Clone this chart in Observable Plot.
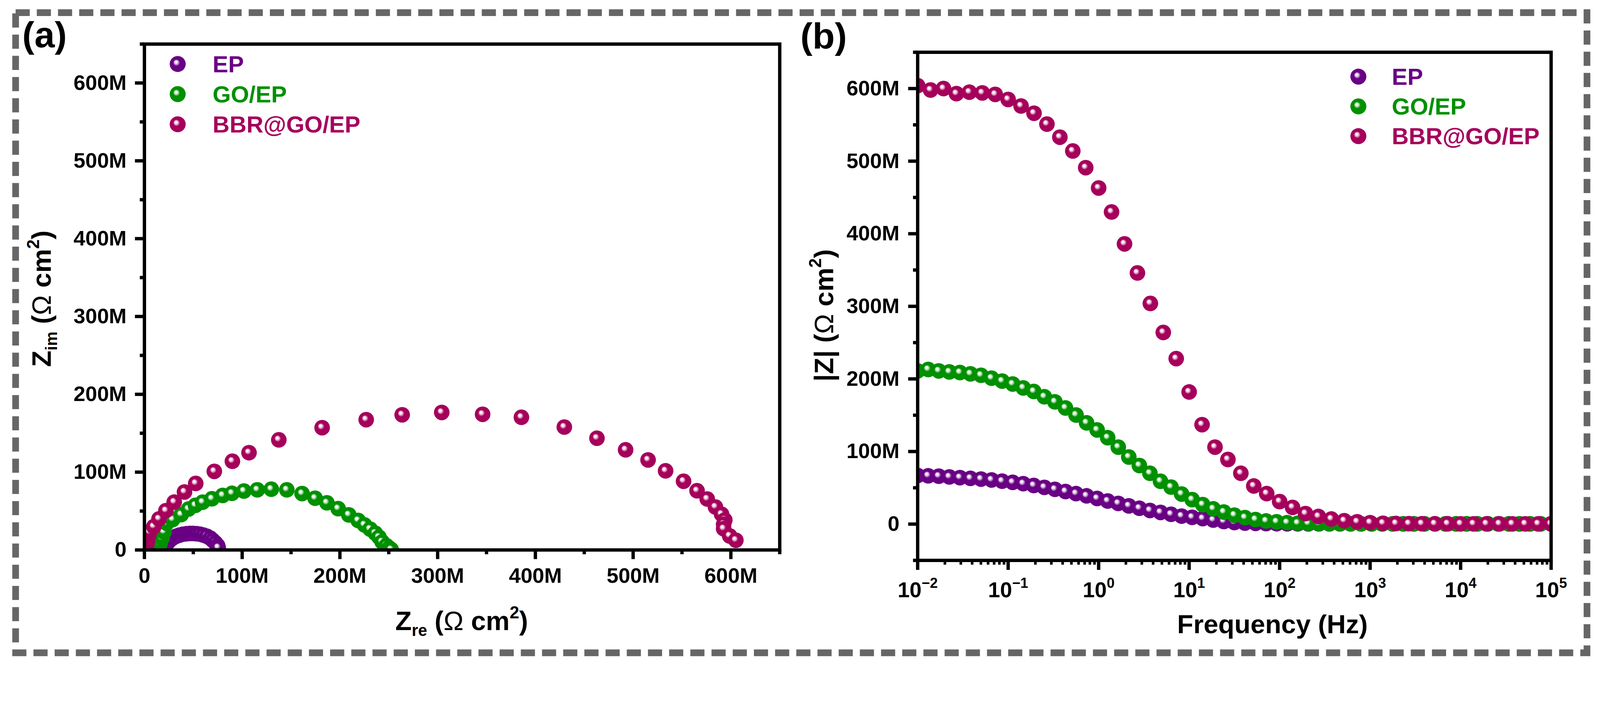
<!DOCTYPE html>
<html>
<head>
<meta charset="utf-8">
<script src="https://cdn.jsdelivr.net/npm/d3@7"></script>
<script src="https://cdn.jsdelivr.net/npm/@observablehq/plot@0.6"></script>
<style>
html,body{margin:0;padding:0;background:#fff;overflow:hidden;}
#root{position:absolute;left:0;top:0;width:4304px;height:1796px;background:#fff;transform-origin:0 0;}
#root > svg{position:absolute;}
</style>
</head>
<body>
<div id="root"></div>
<script>
// ---------------- DATA (values in M Ω·cm²) ----------------
const seriesNames = ["EP", "GO/EP", "BBR@GO/EP"];
const seriesColors = ["#690084", "#009000", "#a5005b"];
const seriesTints = ["#c9a3d6", "#a6dba6", "#e6a6c6"];

// (a) Nyquist
const nyqEP_re = [14, 17, 21, 24.5, 28, 32.4, 35.9, 39.4, 42.9, 46.4, 49.9, 53.4, 56.9, 60.4, 63.9, 67.4, 70, 72.6, 74.9, 75.5];
const nyqEP_im = [1.5, 3.5, 7, 10.4, 14.4, 17.6, 19.1, 20.3, 20.9, 21.2, 21.2, 20.9, 20.3, 19.1, 17.6, 15.2, 12.3, 9.1, 5.6, 3];

const nyqGO_re = [14, 16, 18, 20, 22.8, 28.9, 37.6, 45.2, 52.2, 59.5, 69.1, 80.1, 89.6, 101.8, 115.5, 129.8, 145.7, 161.3, 174.6, 186.7, 198.2, 209.1, 218.7, 225.1, 230.9, 236.2, 240, 243.2, 247.5, 250.5, 252.5];
const nyqGO_im = [2, 8, 15, 23, 34.3, 39.1, 45.4, 52.6, 57.4, 61.4, 65.8, 70.1, 72.8, 75.7, 77.3, 78.1, 77.3, 72.5, 66.5, 60.6, 53.1, 45.1, 37.9, 32.2, 26.8, 21.5, 16.4, 10.4, 5.6, 2.5, 0.5];

const nyqBBR_re = [2, 3, 4, 5.3, 9.6, 14.9, 22, 30.5, 41, 52.5, 71.5, 90, 107, 137.5, 181.8, 226.9, 263.7, 304.2, 346, 385.7, 429.6, 463, 492.3, 515.3, 533.2, 551.6, 565.4, 575.8, 584.2, 590.5, 593.8, 592.6, 592.6, 598.8, 605.1];
const nyqBBR_im = [3, 10, 17, 23, 30, 39.9, 50.5, 61.5, 74.5, 85.5, 101, 114, 125, 141.5, 157.1, 167.4, 173.7, 176.7, 174.3, 170.5, 157.9, 143.6, 128.7, 115.7, 101.7, 88.3, 76.1, 65.5, 55.2, 45.9, 38.5, 32.9, 27.3, 18, 12.5];

// (b) Bode |Z|
const freqA = [0.01, 0.01308, 0.01711, 0.02239, 0.02929, 0.03831, 0.05012, 0.06556, 0.08577, 0.1122,
  0.1468, 0.1920, 0.2512, 0.3286, 0.4299, 0.5623, 0.7356, 0.9624, 1.259, 1.647,
  2.154, 2.818, 3.687, 4.823, 6.310, 8.254, 10.80, 14.13, 18.48, 24.17,
  31.62, 41.37, 54.12, 70.79, 92.61, 121.2, 158.5, 207.4, 271.3, 354.8,
  464.2, 607.3, 794.3, 1039, 1359, 1778, 2326, 3043, 3981, 5208,
  6813, 8913, 11659, 15252, 19953, 26102, 34146, 44668, 58434, 76444, 100000];
const bodeEP = [67, 66.5, 66, 65, 64, 63, 62, 60.8, 59.1, 57.5,
  55.7, 53.2, 50.6, 47.9, 44.9, 42, 38.9, 35.3, 31.8, 28.5,
  25.1, 21.8, 18.8, 16.1, 13.5, 11, 9.3, 7.6, 5.5, 3.5,
  2.2, 1.4, 1.0, 0.7, 0.5, 0.4, 0.4, 0.3, 0.3, 0.3,
  0.3, 0.3, 0.3, 0.3, 0.3, 0.3, 0.3, 0.3, 0.3, 0.3,
  0.3, 0.3, 0.3, 0.3, 0.3, 0.3, 0.3, 0.3, 0.3, 0.3, 0.3];
const bodeGO = [211, 213, 211, 209.6, 208.8, 207, 205, 201, 197, 193,
  187.6, 182.7, 175.4, 168.4, 160, 150.3, 139.5, 129.7, 119, 106,
  92.4, 80.7, 70, 59, 51, 41.4, 33.7, 26.8, 21, 16.6,
  12.3, 8.9, 6.3, 4.3, 3.1, 2, 1.2, 0.8, 0.6, 0.5,
  0.4, 0.4, 0.3, 0.3, 0.3, 0.3, 0.3, 0.3, 0.3, 0.3,
  0.3, 0.3, 0.3, 0.3, 0.3, 0.3, 0.3, 0.3, 0.3, 0.3, 0.3];
const freqB = [0.01, 0.01389, 0.01931, 0.02683, 0.03728, 0.05179, 0.07197, 0.1, 0.1389, 0.1931,
  0.2683, 0.3728, 0.5179, 0.7197, 1, 1.389, 1.931, 2.683, 3.728, 5.179,
  7.197, 10, 13.89, 19.31, 26.83, 37.28, 51.79, 71.97, 100, 138.9,
  193.1, 268.3, 372.8, 517.9, 719.7, 1000, 1389, 1931, 2683, 3728,
  5179, 7197, 10000, 13895, 19307, 26827, 37276, 51795, 71969, 100000];
const bodeBBR = [604, 598, 600, 593, 595, 594, 592, 585, 576, 566,
  551, 533, 514, 491, 463, 430, 386, 346, 304, 264,
  228, 182, 137, 106, 89, 70, 52.5, 42, 31, 23,
  14.5, 10.5, 7, 4.6, 3.1, 2, 1.2, 0.8, 0.6, 0.5,
  0.4, 0.4, 0.3, 0.3, 0.3, 0.3, 0.3, 0.3, 0.3, 0.3];

// tick values
const ticksMA = [0, 100, 200, 300, 400, 500, 600];
const minorMA = [50, 150, 250, 350, 450, 550, 650];
const ticksMB = [0, 100, 200, 300, 400, 500, 600];
const minorMB = [-50, 50, 150, 250, 350, 450, 550, 650];
const ticksFreq = [0.01, 0.1, 1, 10, 100, 1000, 10000, 100000];

// ---------------- helpers ----------------
const FONT = "'Liberation Sans', Arial, Helvetica, sans-serif";
const NS = "http://www.w3.org/2000/svg";
const gradIds = ["gEP", "gGO", "gBBR"];
const pts = (xs, ys) => xs.map((x, i) => ({x, y: ys[i]}));
const fmtM = d => d === 0 ? "0" : d + "M";
const minorFreq = [];
for (let k = -2; k < 5; k++) for (let m = 2; m <= 9; m++) minorFreq.push(m * Math.pow(10, k));
const baseStyle = {fontFamily: FONT, fontWeight: "bold", fontSize: "57px", color: "#000", background: "transparent", overflow: "visible", maxWidth: "none"};
const txt = {fontSize: 57, fontWeight: "bold", fontFamily: FONT};
const R = 21;

// ---------------- panel (a) ----------------
const plotA = Plot.plot({
  width: 2152, height: 1796,
  marginLeft: 388, marginRight: 55, marginTop: 118, marginBottom: 318,
  style: baseStyle,
  x: {domain: [0, 650], axis: null, label: null},
  y: {domain: [0, 650], axis: null, label: null},
  marks: [
    Plot.dot(pts(nyqEP_re, nyqEP_im), {x: "x", y: "y", r: R, fill: "url(#gEP)", clip: true}),
    Plot.dot(pts(nyqGO_re, nyqGO_im), {x: "x", y: "y", r: R, fill: "url(#gGO)", clip: true}),
    Plot.dot(pts(nyqBBR_re, nyqBBR_im), {x: "x", y: "y", r: R, fill: "url(#gBBR)", clip: true}),
    Plot.frame({stroke: "#000", strokeWidth: 9}),
    Plot.axisX({ticks: ticksMA, tickSize: 25, tickPadding: 23, strokeWidth: 9, tickFormat: fmtM, label: null, ...txt}),
    Plot.axisX({ticks: minorMA, tickSize: 12, strokeWidth: 9, tickFormat: () => "", label: null}),
    Plot.axisY({ticks: ticksMA, tickSize: 25, tickPadding: 23, strokeWidth: 9, tickFormat: fmtM, label: null, ...txt}),
    Plot.axisY({ticks: minorMA, tickSize: 12, strokeWidth: 9, tickFormat: () => "", label: null})
  ]
});

// ---------------- panel (b) ----------------
const plotB = Plot.plot({
  width: 2152, height: 1796,
  marginLeft: 316, marginRight: 132, marginTop: 140, marginBottom: 290,
  style: baseStyle,
  x: {type: "log", domain: [0.01, 100000], axis: null, label: null},
  y: {domain: [-50, 650], axis: null, label: null},
  marks: [
    Plot.dot(pts(freqA, bodeEP), {x: "x", y: "y", r: R, fill: "url(#gEP)", clip: true}),
    Plot.dot(pts(freqA, bodeGO), {x: "x", y: "y", r: R, fill: "url(#gGO)", clip: true}),
    Plot.dot(pts(freqB, bodeBBR), {x: "x", y: "y", r: R, fill: "url(#gBBR)", clip: true}),
    Plot.frame({stroke: "#000", strokeWidth: 9}),
    Plot.axisX({ticks: ticksFreq, tickSize: 26, tickPadding: 32, strokeWidth: 9, tickFormat: d => String(Math.round(Math.log10(d))), label: null, ...txt, fontSize: 58}),
    Plot.axisX({ticks: minorFreq, tickSize: 12, strokeWidth: 7, tickFormat: () => "", label: null}),
    Plot.axisY({ticks: ticksMB, tickSize: 25, tickPadding: 24, strokeWidth: 9, tickFormat: fmtM, label: null, ...txt}),
    Plot.axisY({ticks: minorMB, tickSize: 12, strokeWidth: 9, tickFormat: () => "", label: null})
  ]
});

// superscript exponents on log tick labels
plotB.querySelectorAll('g[aria-label="x-axis tick label"] text').forEach(t => {
  const s = t.textContent.trim();
  if (!/^-?\d+$/.test(s)) return;
  t.textContent = "10";
  const sp = document.createElementNS(NS, "tspan");
  sp.setAttribute("dy", "-25");
  sp.setAttribute("font-size", "38");
  sp.textContent = s.replace("-", "\u2212");
  t.appendChild(sp);
});

const root = document.getElementById("root");
plotA.style.left = "0px"; plotA.style.top = "0px"; plotA.style.position = "absolute";
plotB.style.left = "2152px"; plotB.style.top = "0px"; plotB.style.position = "absolute";
root.appendChild(plotA);
root.appendChild(plotB);

// fit the 4304x1796 layout to the actual CSS viewport
function fit() {
  const s = Math.min(window.innerWidth / 4304, window.innerHeight / 1796);
  root.style.transform = `scale(${s})`;
}
fit();
window.addEventListener("resize", fit);

// ---------------- overlay: gradients, border, labels, titles, legends ----------------
const ov = document.createElementNS(NS, "svg");
ov.setAttribute("width", 4304); ov.setAttribute("height", 1796);
ov.style.left = "0px"; ov.style.top = "0px"; ov.style.position = "absolute";
ov.style.pointerEvents = "none";
ov.setAttribute("font-family", FONT);
root.appendChild(ov);

function el(tag, attrs, parent, text) {
  const e = document.createElementNS(NS, tag);
  for (const k in attrs) e.setAttribute(k, attrs[k]);
  if (text !== undefined) e.textContent = text;
  (parent || ov).appendChild(e);
  return e;
}

const defs = el("defs", {});
gradIds.forEach((id, i) => {
  const g = el("radialGradient", {id, cx: 0.5, cy: 0.5, r: 0.5, fx: 0.38, fy: 0.36}, defs);
  el("stop", {offset: 0, "stop-color": "#ffffff"}, g);
  el("stop", {offset: 0.1, "stop-color": "#ffffff"}, g);
  el("stop", {offset: 0.26, "stop-color": seriesTints[i]}, g);
  el("stop", {offset: 0.42, "stop-color": seriesColors[i]}, g);
  el("stop", {offset: 1, "stop-color": seriesColors[i]}, g);
});

// dashed outer border
el("rect", {x: 42, y: 34, width: 4227, height: 1721, fill: "none", stroke: "#666666", "stroke-width": 18, "stroke-dasharray": "38 19"});

// panel labels
el("text", {x: 60, y: 127, "font-size": 98, "font-weight": "bold", fill: "#000"}, ov, "(a)");
el("text", {x: 2153, y: 130, "font-size": 98, "font-weight": "bold", fill: "#000"}, ov, "(b)");

// axis titles with sub/superscripts
function title(x, y, rotate, parts) {
  const t = el("text", {x: 0, y: 0, "font-size": 72, "font-weight": "bold", "text-anchor": "middle", fill: "#000",
    transform: `translate(${x},${y})` + (rotate ? " rotate(-90)" : "")});
  parts.forEach(p => {
    const s = el("tspan", {}, t, p.t);
    if (p.sub) { s.setAttribute("font-size", 44); s.setAttribute("dy", 16); }
    if (p.sup) { s.setAttribute("font-size", 46); s.setAttribute("dy", -32); }
    if (p.dy) s.setAttribute("dy", p.dy);
    if (p.normal) s.setAttribute("font-weight", "normal");
  });
  return t;
}
title(137, 803, true, [{t: "Z"}, {t: "im", sub: true}, {t: " (", dy: -16}, {t: "\u03A9", normal: true}, {t: " cm"}, {t: "2", sup: true}, {t: ")", dy: 32}]);
title(1242, 1694, false, [{t: "Z"}, {t: "re", sub: true}, {t: " (", dy: -16}, {t: "\u03A9", normal: true}, {t: " cm"}, {t: "2", sup: true}, {t: ")", dy: 32}]);
title(2241, 848, true, [{t: "|Z| ("}, {t: "\u03A9", normal: true}, {t: " cm"}, {t: "2", sup: true}, {t: ")", dy: 32}]);
const ft = title(3423, 1702, false, [{t: "Frequency (Hz)"}]);
ft.setAttribute("font-size", 71);

// legends
function legend(cx, tx, y0, dy) {
  seriesNames.forEach((name, i) => {
    const cy = y0 + i * dy;
    el("circle", {cx, cy, r: 21.5, fill: `url(#${gradIds[i]})`});
    el("text", {x: tx, y: cy + 22, "font-size": 63, "font-weight": "bold", fill: seriesColors[i]}, ov, name);
  });
}
legend(478, 572, 172, 81);
legend(3654, 3744, 206, 80);
</script>
</body>
</html>
